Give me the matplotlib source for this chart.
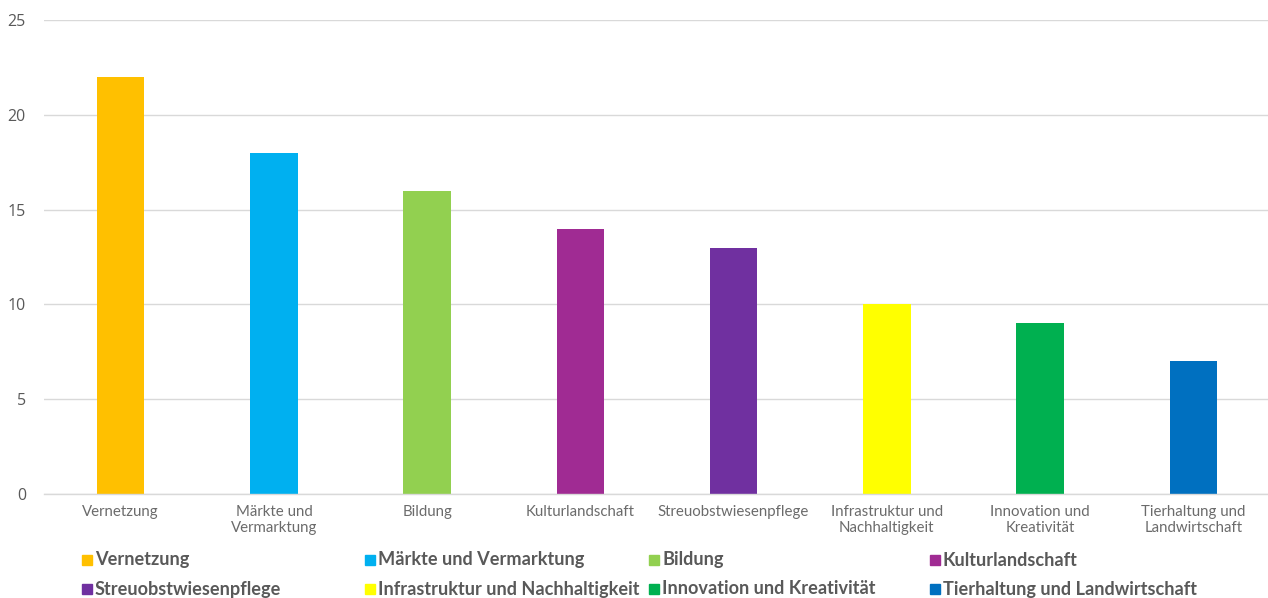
import matplotlib
matplotlib.use("Agg")
import matplotlib.pyplot as plt
from matplotlib.patches import Rectangle

categories = ["Vernetzung", "Märkte und Vermarktung", "Bildung", "Kulturlandschaft",
              "Streuobstwiesenpflege", "Infrastruktur und Nachhaltigkeit",
              "Innovation und Kreativität", "Tierhaltung und Landwirtschaft"]
tick_labels = ["Vernetzung", "Märkte und\nVermarktung", "Bildung", "Kulturlandschaft",
               "Streuobstwiesenpflege", "Infrastruktur und\nNachhaltigkeit",
               "Innovation und\nKreativität", "Tierhaltung und\nLandwirtschaft"]
values = [22, 18, 16, 14, 13, 10, 9, 7]
colors = ["#FFC000", "#00B0F0", "#92D050", "#A02B93", "#7030A0", "#FFFF00", "#00B050", "#0070C0"]
yticks = [0, 5, 10, 15, 20, 25]

W, H = 1268, 598
fig = plt.figure(figsize=(W / 100, H / 100), dpi=100)
ax = fig.add_axes([44 / W, 104 / H, (1270 - 44) / W, (494 - 20) / H])

x = list(range(len(categories)))
ax.bar(x, values, width=0.31, color=colors, zorder=3)
ax.set_xlim(-0.5, len(categories) - 0.5)
ax.set_ylim(0, 25)
ax.set_yticks(yticks)
ax.set_yticklabels([str(t) for t in yticks], fontsize=11.5, color="#595959", family="Open Sans")
ax.set_xticks(x)
ax.set_xticklabels(tick_labels, fontsize=10.8, color="#6B6B6B", family="Lato",
                   fontweight="normal", linespacing=1.2)
ax.tick_params(axis="both", length=0)
ax.tick_params(axis="y", pad=13)
ax.tick_params(axis="x", pad=8)
ax.grid(axis="y", color="#D9D9D9", linewidth=1, zorder=0)
for s in ["top", "right", "left"]:
    ax.spines[s].set_visible(False)
ax.spines["bottom"].set_color("#D9D9D9")
ax.spines["bottom"].set_linewidth(1)
ax.spines["bottom"].set_zorder(4)

# legend: 4 columns, 2 rows, row-wise order
col_x = [82, 365, 649, 930]
row_y = [560, 589]
for i, (name, c) in enumerate(zip(categories, colors)):
    r, k = divmod(i, 4)
    px, py = col_x[k], row_y[r]
    fig.patches.append(Rectangle((px / W, 1 - (py + 5) / H), 10 / W, 10 / H,
                                 transform=fig.transFigure, color=c, figure=fig))
    fig.text((px + 13) / W, 1 - py / H, name, fontsize=13.1, fontweight="bold",
             color="#595959", family="Lato", va="center", ha="left")

fig.savefig("out.png", dpi=100)
